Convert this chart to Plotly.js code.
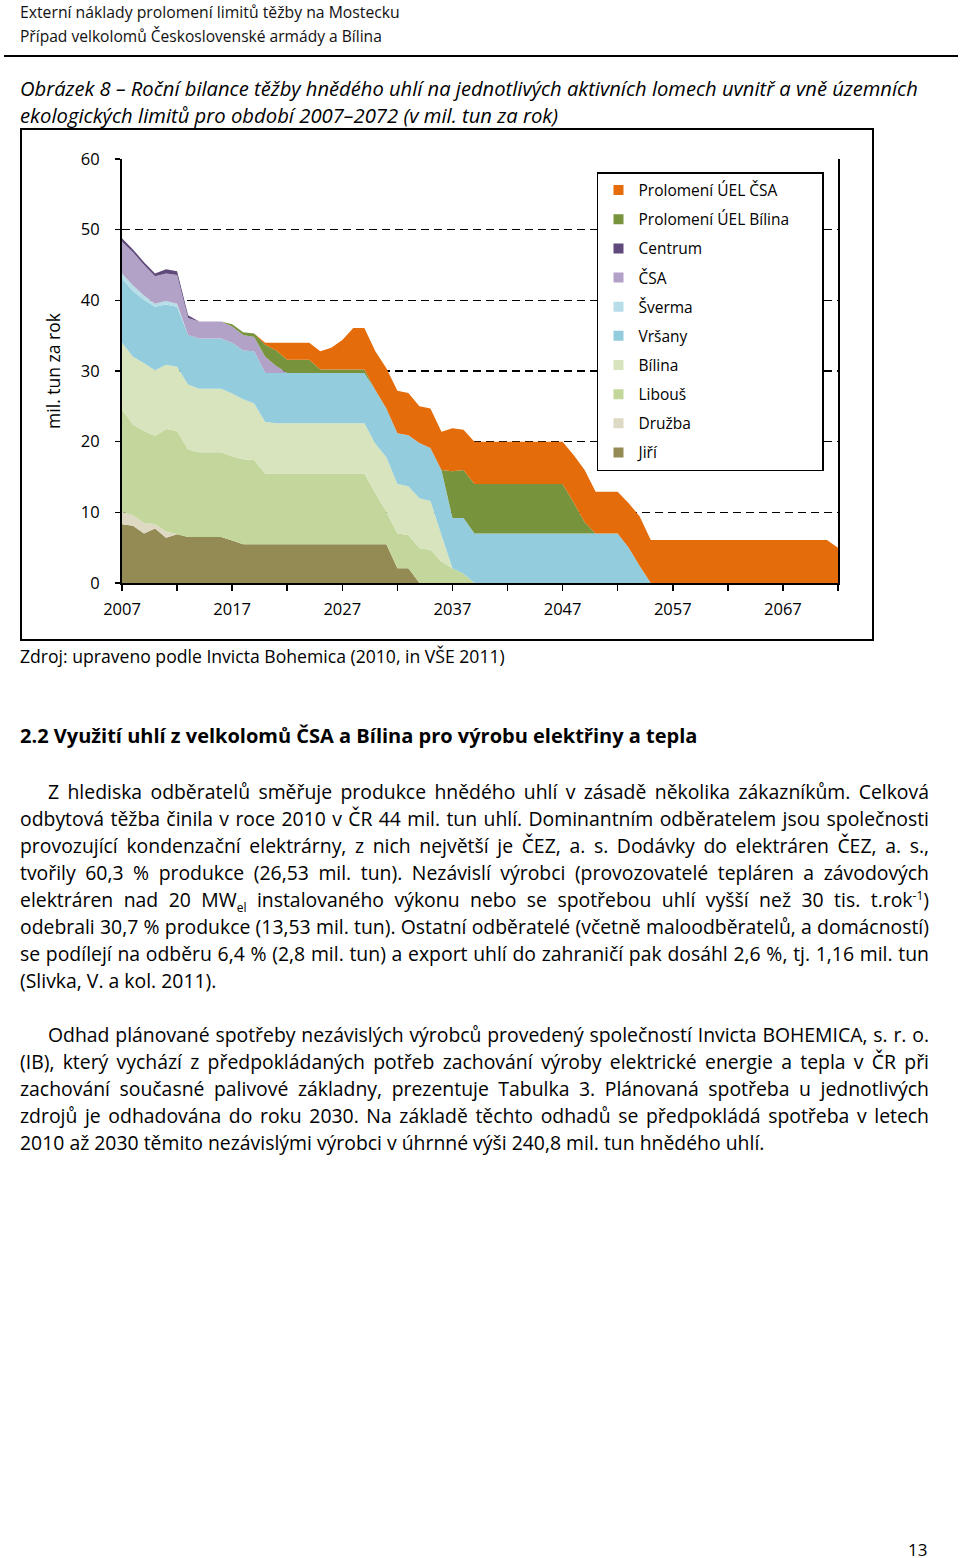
<!DOCTYPE html>
<html><head><meta charset="utf-8">
<script src="https://cdn.plot.ly/plotly-3.0.1.min.js"></script>
<style>
html,body{margin:0;padding:0;background:#fff;}
body{width:960px;height:1558px;position:relative;overflow:hidden;font-family:"Open Sans",Lato,sans-serif;color:#000;}
.ln{position:absolute;white-space:nowrap;left:20px;}
.j{position:absolute;left:20px;width:909px;text-align:justify;text-align-last:justify;font-size:18.5px;line-height:27px;height:27px;white-space:normal;overflow:visible;}
.j.ind{left:48px;width:881px;}
.j.last{text-align-last:left;}
.hd{font-size:16px;line-height:24px;color:#111;}
.cap{font-size:17.5px;line-height:27px;font-style:italic;}
sub,sup{font-size:0.62em;line-height:0;}
#chart{position:absolute;left:20px;top:128px;width:853px;height:512px;}
#frame{position:absolute;left:20px;top:128px;width:854px;height:513px;border:2px solid #000;box-sizing:border-box;pointer-events:none;}
#rule{position:absolute;left:4px;top:55px;width:954px;height:2px;background:#000;}
</style></head>
<body>
<div class="ln hd" style="top:0px" data-w="380">Externí náklady prolomení limitů těžby na Mostecku</div>
<div class="ln hd" style="top:24px" data-w="362">Případ velkolomů Československé armády a Bílina</div>
<div id="rule"></div>
<div class="ln cap" style="top:74.7px" data-w="898">Obrázek 8 – Roční bilance těžby hnědého uhlí na jednotlivých aktivních lomech uvnitř a vně územních</div>
<div class="ln cap" style="top:101.7px" data-w="538">ekologických limitů pro období 2007–2072 (v mil. tun za rok)</div>

<div id="chart"></div>
<div id="frame"></div>

<div class="ln" style="top:644px;font-size:16px;line-height:24px" data-w="485">Zdroj: upraveno podle Invicta Bohemica (2010, in VŠE 2011)</div>
<div class="ln" style="top:722px;font-size:19px;line-height:27px;font-weight:bold" data-w="680">2.2 Využití uhlí z velkolomů ČSA a Bílina pro výrobu elektřiny a tepla</div>

<div class="j ind" style="top:777.7px">Z hlediska odběratelů směřuje produkce hnědého uhlí v zásadě několika zákazníkům. Celková</div>
<div class="j" style="top:804.7px">odbytová těžba činila v roce 2010 v ČR 44 mil. tun uhlí. Dominantním odběratelem jsou společnosti</div>
<div class="j" style="top:831.7px">provozující kondenzační elektrárny, z nich největší je ČEZ, a. s. Dodávky do elektráren ČEZ, a. s.,</div>
<div class="j" style="top:858.7px">tvořily 60,3 % produkce (26,53 mil. tun). Nezávislí výrobci (provozovatelé tepláren a závodových</div>
<div class="j" style="top:885.7px">elektráren nad 20 MW<sub>el</sub> instalovaného výkonu nebo se spotřebou uhlí vyšší než 30 tis. t.rok<sup>-1</sup>)</div>
<div class="j" style="top:912.7px">odebrali 30,7 % produkce (13,53 mil. tun). Ostatní odběratelé (včetně maloodběratelů, a domácností)</div>
<div class="j" style="top:939.7px">se podílejí na odběru 6,4 % (2,8 mil. tun) a export uhlí do zahraničí pak dosáhl 2,6 %, tj. 1,16 mil. tun</div>
<div class="j last" style="top:966.7px" data-w="198">(Slivka, V. a kol. 2011).</div>

<div class="j ind" style="top:1020.7px">Odhad plánované spotřeby nezávislých výrobců provedený společností Invicta BOHEMICA, s. r. o.</div>
<div class="j" style="top:1047.7px">(IB), který vychází z předpokládaných potřeb zachování výroby elektrické energie a tepla v ČR při</div>
<div class="j" style="top:1074.7px">zachování současné palivové základny, prezentuje Tabulka 3. Plánovaná spotřeba u jednotlivých</div>
<div class="j" style="top:1101.7px">zdrojů je odhadována do roku 2030. Na základě těchto odhadů se předpokládá spotřeba v letech</div>
<div class="j last" style="top:1128.7px" data-w="742">2010 až 2030 těmito nezávislými výrobci v úhrnné výši 240,8 mil. tun hnědého uhlí.</div>

<div class="ln" style="top:1538px;left:908px;font-size:17px;line-height:24px">13</div>

<script>
// ---- data (mil. tun za rok) ----
const years = [2007,2008,2009,2010,2011,2012,2013,2014,2015,2016,
 2017,2018,2019,2020,2021,2022,2023,2024,2025,2026,
 2027,2028,2029,2030,2031,2032,2033,2034,2035,2036,
 2037,2038,2039,2040,2041,2042,2043,2044,2045,2046,
 2047,2048,2049,2050,2051,2052,2053,2054,2055,2056,
 2057,2058,2059,2060,2061,2062,2063,2064,2065,2066,
 2067,2068,2069,2070,2071,2072];

const jiri = [8.3,8.1,7.0,7.7,6.4,6.9,6.5,6.5,6.5,6.5,
 6.0,5.5,5.5,5.5,5.5,5.5,5.5,5.5,5.5,5.5,
 5.5,5.5,5.5,5.5,5.5,2.1,2.1,0,0,0,
 0,0,0,0,0,0,0,0,0,0, 0,0,0,0,0,0,0,0,0,0, 0,0,0,0,0,0,0,0,0,0, 0,0,0,0,0,0];
const druzba = [1.8,1.5,1.5,0.6,0.9,0,0,0,0,0,
 0,0,0,0,0,0,0,0,0,0, 0,0,0,0,0,0,0,0,0,0, 0,0,0,0,0,0,0,0,0,0,
 0,0,0,0,0,0,0,0,0,0, 0,0,0,0,0,0,0,0,0,0, 0,0,0,0,0,0];
const libous = [14.4,12.8,13.0,12.5,14.5,14.6,12.4,12.0,12.0,12.0,
 11.9,12.0,11.9,10.0,10.0,10.0,10.0,10.0,10.0,10.0,
 10.0,10.0,10.0,7.2,4.6,4.9,4.7,4.9,4.7,3.0,
 2.1,1.3,0,0,0,0,0,0,0,0, 0,0,0,0,0,0,0,0,0,0, 0,0,0,0,0,0,0,0,0,0, 0,0,0,0,0,0];
const bilina = [9.5,9.6,9.6,9.3,9.1,9.1,9.2,9.0,9.0,9.0,
 8.9,8.5,8.0,7.3,7.1,7.1,7.1,7.1,7.1,7.1,
 7.1,7.1,7.1,7.0,7.7,7.0,6.9,7.1,6.9,3.8,
 0,0,0,0,0,0,0,0,0,0, 0,0,0,0,0,0,0,0,0,0, 0,0,0,0,0,0,0,0,0,0, 0,0,0,0,0,0];
const vrsany = [9.1,9.3,9.0,9.0,8.5,8.5,7.0,7.1,7.1,7.1,
 7.2,6.9,7.4,6.9,7.1,7.1,7.1,7.1,7.1,7.1,
 7.1,7.1,7.1,7.6,6.9,7.2,7.2,7.8,7.5,9.2,
 7.1,7.9,7.0,7.0,7.0,7.0,7.0,7.0,7.0,7.0,
 7.0,7.0,7.0,7.0,7.0,7.0,5.0,2.4,0,0,
 0,0,0,0,0,0,0,0,0,0, 0,0,0,0,0,0];
const sverma = [0.7,0.8,0.6,0.4,0.5,0.4,0,0,0,0,
 0,0,0,0,0,0,0,0,0,0, 0,0,0,0,0,0,0,0,0,0, 0,0,0,0,0,0,0,0,0,0,
 0,0,0,0,0,0,0,0,0,0, 0,0,0,0,0,0,0,0,0,0, 0,0,0,0,0,0];
const csa = [4.5,4.7,4.3,3.9,3.9,4.1,2.4,2.4,2.4,2.4,
 2.3,2.2,2.0,2.3,1.0,0,0,0,0,0,
 0,0,0,0,0,0,0,0,0,0, 0,0,0,0,0,0,0,0,0,0,
 0,0,0,0,0,0,0,0,0,0, 0,0,0,0,0,0,0,0,0,0, 0,0,0,0,0,0];
const centrum = [0.5,0.4,0.4,0.4,0.6,0.5,0.4,0,0,0,
 0,0,0,0,0,0,0,0,0,0, 0,0,0,0,0,0,0,0,0,0, 0,0,0,0,0,0,0,0,0,0,
 0,0,0,0,0,0,0,0,0,0, 0,0,0,0,0,0,0,0,0,0, 0,0,0,0,0,0];
const uelBilina = [0,0,0,0,0,0,0,0,0,0,
 0.3,0.4,0.5,1.7,2.2,1.9,1.9,1.9,0.5,0.5,
 0.5,0.5,0.5,0,0,0,0,0,0,0,
 6.6,6.8,7.0,7.0,7.0,7.0,7.0,7.0,7.0,7.0,
 7.0,4.4,1.6,0,0,0,0,0,0,0,
 0,0,0,0,0,0,0,0,0,0, 0,0,0,0,0,0];
const uelCSA = [0,0,0,0,0,0,0,0,0,0,
 0,0,0,0.3,1.1,2.4,2.4,2.4,2.6,3.1,
 4.2,5.9,5.9,5.5,5.7,6.0,6.0,5.2,5.6,5.4,
 6.1,5.7,6.0,6.0,6.0,6.0,6.0,6.0,6.0,6.0,
 6.0,6.7,7.4,5.9,5.9,5.9,6.3,7.0,6.1,6.1,
 6.1,6.1,6.1,6.1,6.1,6.1,6.1,6.1,6.1,6.1,
 6.1,6.1,6.1,6.1,6.1,5.0];

const seriesNames = ['Jiří','Družba','Libouš','Bílina','Vršany','Šverma','ČSA','Centrum','Prolomení ÚEL Bílina','Prolomení ÚEL ČSA'];
const seriesValues = [jiri,druzba,libous,bilina,vrsany,sverma,csa,centrum,uelBilina,uelCSA];
const seriesColors = ['#948A54','#DDD9C3','#C3D69B','#D7E4BD','#93CDDD','#B7DEE8','#B3A2C7','#604A7B','#77933C','#E46C0A'];

const xTickVals = [2007,2012,2017,2022,2027,2032,2037,2042,2047,2052,2057,2062,2067,2072];
const xTickText = ['2007','','2017','','2027','','2037','','2047','','2057','','2067',''];
const yTickVals = [0,10,20,30,40,50,60];

const FONT = '"Open Sans", Lato, sans-serif';
const traces = [];
seriesNames.forEach((n,i)=>{
  traces.push({x:years, y:seriesValues[i], type:'scatter', mode:'none', stackgroup:'one',
    fill:'tonexty', fillcolor:seriesColors[i], line:{width:0}, name:n, showlegend:false, hoverinfo:'skip'});
});
// legend entries (top to bottom as in the original); the box is wider than its text
const PAD = '\u00a0\u00a0\u00a0\u00a0\u00a0\u00a0\u00a0';
for(let i=seriesNames.length-1;i>=0;i--){
  traces.push({x:[null], y:[null], type:'scatter', mode:'markers', name:seriesNames[i]+(i===8?PAD:''),
    legendgroup:'g'+i, showlegend:true, marker:{symbol:'square', size:10, color:seriesColors[i]}, hoverinfo:'skip'});
}

const layout = {
  width:853, height:512,
  margin:{l:102, r:35, t:31, b:57, pad:0},
  paper_bgcolor:'rgba(0,0,0,0)', plot_bgcolor:'#fff',
  font:{family:FONT, size:16.5, color:'#000'},
  showlegend:true,
  legend:{x:0.6634, y:0.9693, xanchor:'left', yanchor:'top', bgcolor:'#fff', bordercolor:'#000', borderwidth:1.5,
    font:{family:FONT, size:15.5, color:'#000'}, traceorder:'grouped', tracegroupgap:6, itemwidth:30},
  xaxis:{range:[2007,2072], tickmode:'array', tickvals:xTickVals, ticktext:xTickText,
    showline:true, linecolor:'#000', linewidth:1.5, ticks:'outside', ticklen:6, tickwidth:1.5, tickcolor:'#000',
    showgrid:false, zeroline:false, ticklabelstandoff:5, tickfont:{family:FONT, size:16.5, color:'#000'}, fixedrange:true},
  yaxis:{range:[0,60], tickmode:'array', tickvals:yTickVals,
    showline:true, mirror:true, linecolor:'#000', linewidth:2, ticks:'outside', ticklen:5, tickwidth:1.5, tickcolor:'#000',
    showgrid:true, gridcolor:'#000', gridwidth:1.5, griddash:'8px,5px', zeroline:false,
    ticklabelstandoff:12, tickfont:{family:FONT, size:16.5, color:'#000'},
    title:{text:'mil. tun za rok', font:{family:FONT, size:17.5, color:'#000'}, standoff:16}, fixedrange:true}
};
Plotly.newPlot('chart', traces, layout, {staticPlot:true, displayModeBar:false});

// ---- text fitting (keeps the line breaks of the original page) ----
function naturalWidth(el){
  const s = el.style;
  const prev=[s.whiteSpace,s.textAlign,s.textAlignLast,s.width,s.display];
  s.whiteSpace='nowrap'; s.textAlign='left'; s.textAlignLast='left'; s.width='auto'; s.display='inline-block';
  const w = el.getBoundingClientRect().width;
  s.whiteSpace=prev[0]; s.textAlign=prev[1]; s.textAlignLast=prev[2]; s.width=prev[3]; s.display=prev[4];
  return w;
}
function fitText(){
  document.querySelectorAll('.ln[data-w]').forEach(el=>{
    el.style.fontSize = '';
    const fs = parseFloat(getComputedStyle(el).fontSize);
    const w = naturalWidth(el);
    if(w>0){ let f = fs*parseFloat(el.dataset.w)/w; f=Math.max(fs*0.8,Math.min(fs*1.25,f)); el.style.fontSize=f.toFixed(2)+'px'; }
  });
  const js = Array.from(document.querySelectorAll('.j'));
  js.forEach(el=>{ el.style.fontSize=''; });
  const fs0 = parseFloat(getComputedStyle(js[0]).fontSize);
  let sum=0, n=0;
  js.filter(el=>el.dataset.w).forEach(el=>{ const w=naturalWidth(el); if(w>0){ sum+=fs0*parseFloat(el.dataset.w)/w; n++; } });
  let base = n? sum/n : fs0;
  js.filter(el=>!el.classList.contains('last')).forEach(el=>{
    const avail = el.clientWidth - 2, w = naturalWidth(el);
    if(w>0 && w*base/fs0 > avail) base = fs0*avail/w;
  });
  js.forEach(el=>{ el.style.fontSize = base.toFixed(2)+'px'; });
}
fitText();
if(document.fonts && document.fonts.ready){ document.fonts.ready.then(fitText); }
</script>
</body></html>
